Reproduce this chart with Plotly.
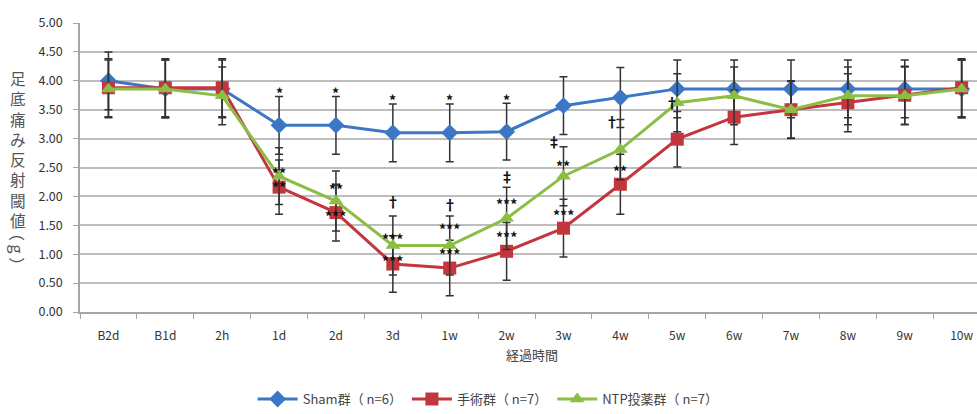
import plotly.graph_objects as go

# Time points
timepoints = ["B2d", "B1d", "2h", "1d", "2d", "3d", "1w", "2w", "3w", "4w",
              "5w", "6w", "7w", "8w", "9w", "10w"]

# Paw withdrawal threshold (g): mean and SD per group
sham_mean = [4.00, 3.86, 3.86, 3.23, 3.23, 3.10, 3.10, 3.12, 3.57, 3.71,
             3.86, 3.86, 3.86, 3.86, 3.86, 3.86]
sham_sd = [0.50, 0.50, 0.50, 0.50, 0.50, 0.50, 0.50, 0.49, 0.50, 0.52,
           0.50, 0.50, 0.50, 0.50, 0.50, 0.50]

surgery_mean = [3.88, 3.88, 3.88, 2.16, 1.72, 0.83, 0.76, 1.05, 1.45, 2.21,
                2.99, 3.37, 3.50, 3.62, 3.75, 3.88]
surgery_sd = [0.50, 0.50, 0.50, 0.47, 0.49, 0.49, 0.48, 0.50, 0.50, 0.52,
              0.48, 0.47, 0.49, 0.50, 0.50, 0.50]

ntp_mean = [3.86, 3.86, 3.74, 2.35, 1.92, 1.15, 1.15, 1.62, 2.35, 2.81,
            3.62, 3.74, 3.50, 3.74, 3.74, 3.86]
ntp_sd = [0.50, 0.50, 0.50, 0.49, 0.52, 0.51, 0.51, 0.54, 0.51, 0.52,
          0.50, 0.50, 0.50, 0.50, 0.50, 0.50]

# Sham-group significance marks (placed above the upper error bar)
sham_sig = {"1d": "*", "2d": "*", "3d": "*", "1w": "*", "2w": "*"}

# Other significance marks: (time point, x offset in categories, y value, text)
sig_marks = [
    ("1d", 0.0, 2.50, "**"), ("1d", 0.0, 2.25, "**"),
    ("2d", 0.0, 2.21, "**"), ("2d", 0.0, 1.75, "***"),
    ("3d", 0.0, 1.92, "†"), ("3d", 0.0, 1.35, "***"), ("3d", 0.0, 0.97, "***"),
    ("1w", 0.0, 1.86, "†"), ("1w", 0.0, 1.53, "***"), ("1w", 0.0, 1.09, "***"),
    ("2w", 0.0, 2.35, "‡"), ("2w", 0.0, 1.96, "***"), ("2w", 0.0, 1.38, "***"),
    ("3w", -0.16, 2.95, "‡"), ("3w", 0.0, 2.61, "**"), ("3w", 0.0, 1.77, "***"),
    ("4w", -0.14, 3.30, "†"), ("4w", 0.0, 2.52, "**"),
    ("5w", -0.10, 3.64, "†"),
]

y_ticks = [0, 0.5, 1, 1.5, 2, 2.5, 3, 3.5, 4, 4.5, 5]

BLUE = "#3C77C5"
RED = "#C3363D"
GREEN = "#8CBD45"
ERR = "#333333"
FONT = "Noto Sans CJK JP"

fig = go.Figure()


def add_series(name, mean, sd, color, symbol, size):
    fig.add_trace(go.Scatter(
        x=timepoints, y=mean, name=name, mode="lines+markers",
        line=dict(color=color, width=3),
        marker=dict(symbol=symbol, size=size, color=color,
                    line=dict(width=0)),
        error_y=dict(type="data", array=sd, visible=True, color=ERR,
                     thickness=1.5, width=4),
    ))


add_series("Sham群（ n=6）", sham_mean, sham_sd, BLUE, "diamond", 13)
add_series("手術群（ n=7）", surgery_mean, surgery_sd, RED, "square", 13)
add_series("NTP投薬群（ n=7）", ntp_mean, ntp_sd, GREEN, "triangle-up", 13)

idx = {t: i for i, t in enumerate(timepoints)}
annotations = []


def sig_note(x, y, text):
    # asterisks sit high in the line box; nudge them down
    shift = -5 if "*" in text else 0
    return dict(x=x, y=y, xref="x", yref="y", text=f"<b>{text}</b>",
                showarrow=False, yshift=shift, xanchor="center",
                yanchor="middle",
                font=dict(family=FONT, size=14, color="#111111"))


for t, txt in sham_sig.items():
    i = idx[t]
    annotations.append(sig_note(i, sham_mean[i] + sham_sd[i] + 0.15, txt))

for t, dx, yv, txt in sig_marks:
    annotations.append(sig_note(idx[t] + dx, yv, txt))

# Vertical y-axis title, one character per line, unit rotated
annotations.append(dict(
    x=0, xref="paper", xanchor="center", xshift=-62,
    y=0.565, yref="paper", yanchor="middle",
    text="<br>".join("足底痛み反射閾値"), showarrow=False, align="center",
    font=dict(family=FONT, size=15.6, color="#555555")))
annotations.append(dict(
    x=0, xref="paper", xanchor="center", xshift=-62,
    y=0.218, yref="paper", yanchor="middle",
    text="（ g ）", textangle=90, showarrow=False,
    font=dict(family=FONT, size=16, color="#555555")))

# x-axis title
annotations.append(dict(
    x=0.504, xref="paper", xanchor="center",
    y=-0.147, yref="paper", yanchor="middle",
    text="経過時間", showarrow=False,
    font=dict(family=FONT, size=13, color="#444444")))

fig.update_layout(
    width=977, height=414,
    margin=dict(l=80, r=0, t=23, b=101),
    paper_bgcolor="white", plot_bgcolor="white",
    font=dict(family=FONT, color="#333333"),
    showlegend=True,
    legend=dict(orientation="h", x=0.455, xanchor="center", y=-0.303,
                yanchor="middle",
                font=dict(family=FONT, size=13, color="#444444"),
                itemwidth=40, traceorder="normal"),
    annotations=annotations,
)

fig.update_xaxes(
    type="category", categoryorder="array", categoryarray=timepoints,
    range=[-0.5, 15.27], showgrid=False,
    showline=True, linecolor="#A6A6A6", linewidth=1.5,
    ticks="outside", tickson="boundaries", ticklen=5, tickcolor="#A6A6A6",
    ticklabelstandoff=12,
    tickfont=dict(family=FONT, size=12, color="#333333"),
    zeroline=False,
)

fig.update_yaxes(
    range=[0, 5], tickvals=y_ticks,
    ticktext=[f"{v:.2f}" for v in y_ticks],
    showgrid=True, gridcolor="#BDBDBD", gridwidth=1.5,
    showline=True, linecolor="#A6A6A6", linewidth=1.5,
    ticks="outside", ticklen=5, tickcolor="#A6A6A6",
    ticklabelstandoff=8,
    tickfont=dict(family=FONT, size=12.5, color="#333333"),
    zeroline=False,
)

fig.write_html("out.html")
